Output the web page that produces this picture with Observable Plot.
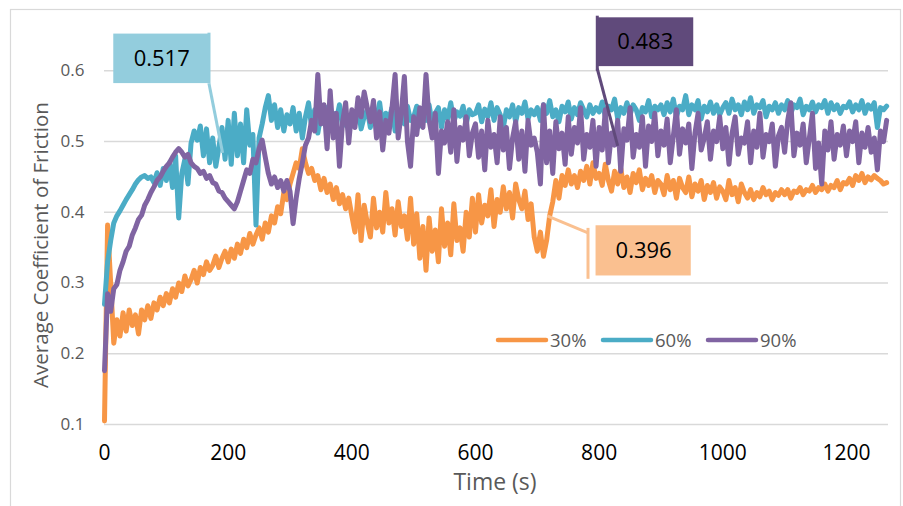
<!DOCTYPE html>
<html>
<head>
<meta charset="utf-8">
<script src="https://cdn.jsdelivr.net/npm/d3@7"></script>
<script src="https://cdn.jsdelivr.net/npm/@observablehq/plot@0.6"></script>
<style>
  html, body { margin: 0; padding: 0; background: #fff; }
  #chart { position: relative; width: 903px; height: 506px; }
</style>
</head>
<body>
<div id="chart"></div>
<script>
// sampling step of the series (seconds)
const dt = 5;

const seriesNames = ["30%", "60%", "90%"];
const seriesColors = ["#f79646", "#4bacc6", "#8064a2"];
const xTicks = [0, 200, 400, 600, 800, 1000, 1200];
const yTicks = [0.1, 0.2, 0.3, 0.4, 0.5, 0.6];

// 30% series, one value every 5 s
const series30 = [
  .105,.382,.300,.215,.248,.225,.258,.232,.262,.240,.255,.228,.262,.248,.268,.250,.272,.262,.280,.268,
  .285,.272,.292,.280,.300,.288,.310,.296,.305,.318,.300,.322,.312,.330,.318,.325,.338,.322,.335,.345,
  .330,.348,.335,.355,.342,.362,.350,.370,.355,.368,.378,.362,.385,.372,.395,.385,.408,.398,.428,.418,
  .440,.455,.470,.462,.490,.470,.455,.462,.445,.452,.432,.448,.428,.440,.418,.435,.412,.425,.405,.420,
  .395,.372,.425,.360,.410,.385,.365,.420,.378,.400,.372,.428,.385,.405,.368,.415,.380,.395,.362,.420,
  .355,.398,.335,.380,.318,.392,.345,.375,.330,.405,.352,.385,.340,.412,.360,.378,.345,.400,.365,.420,
  .372,.425,.385,.410,.395,.432,.380,.418,.400,.436,.405,.428,.392,.440,.418,.405,.430,.390,.412,.365,
  .345,.372,.338,.360,.395,.415,.445,.420,.452,.438,.460,.440,.452,.435,.458,.445,.465,.440,.470,.448,
  .455,.438,.468,.445,.430,.458,.440,.462,.435,.450,.428,.455,.442,.460,.432,.448,.438,.452,.428,.445,
  .440,.425,.452,.432,.445,.420,.448,.435,.428,.450,.422,.440,.430,.445,.418,.438,.428,.442,.420,.436,
  .430,.418,.445,.425,.435,.415,.440,.428,.420,.432,.418,.428,.422,.435,.425,.430,.418,.428,.424,.432,
  .425,.432,.420,.430,.428,.435,.425,.432,.430,.438,.428,.435,.432,.440,.430,.438,.435,.445,.432,.442,
  .440,.448,.438,.452,.445,.455,.442,.450,.446,.452,.448,.445,.440,.442
];

// 60% series
const series60 = [
  .270,.330,.360,.385,.395,.402,.410,.418,.425,.432,.440,.446,.450,.452,.448,.450,.442,.456,.438,.462,
  .445,.470,.435,.480,.392,.455,.475,.440,.498,.515,.502,.522,.480,.518,.470,.505,.465,.492,.520,.475,
  .530,.468,.540,.480,.525,.470,.545,.495,.510,.382,.505,.525,.548,.565,.530,.552,.520,.545,.515,.538,
  .525,.548,.515,.540,.505,.535,.555,.520,.545,.512,.538,.525,.548,.518,.540,.530,.552,.522,.538,.515,
  .540,.525,.550,.518,.535,.545,.520,.548,.530,.555,.522,.540,.532,.548,.515,.538,.545,.525,.550,.530,
  .535,.550,.522,.545,.530,.552,.525,.540,.548,.520,.545,.532,.555,.528,.542,.536,.550,.525,.545,.538,
  .540,.552,.528,.546,.535,.555,.530,.548,.538,.520,.545,.535,.552,.528,.548,.540,.556,.532,.545,.538,
  .548,.530,.552,.540,.558,.535,.545,.528,.550,.542,.556,.532,.548,.538,.555,.545,.535,.552,.540,.548,
  .542,.556,.535,.550,.545,.560,.532,.548,.540,.555,.538,.552,.545,.530,.548,.542,.558,.535,.550,.545,
  .552,.538,.555,.542,.560,.535,.550,.545,.565,.538,.552,.545,.558,.532,.550,.542,.556,.540,.552,.538,
  .548,.555,.540,.560,.545,.552,.538,.556,.545,.562,.540,.552,.548,.558,.535,.550,.545,.555,.540,.552,
  .545,.558,.540,.552,.548,.560,.538,.550,.545,.556,.542,.552,.548,.558,.540,.555,.545,.552,.540,.550,
  .548,.556,.542,.552,.545,.558,.540,.552,.546,.555,.520,.548,.545,.550
];

// 90% series
const series90 = [
  .176,.285,.260,.292,.298,.318,.330,.345,.352,.368,.378,.390,.396,.410,.418,.428,.436,.445,.450,.458,
  .465,.470,.478,.485,.490,.485,.478,.482,.470,.465,.462,.455,.458,.448,.452,.442,.440,.430,.428,.420,
  .415,.410,.405,.415,.430,.445,.460,.455,.475,.470,.490,.502,.478,.455,.440,.450,.435,.445,.430,.445,
  .430,.384,.420,.448,.470,.495,.505,.530,.515,.595,.525,.552,.490,.572,.505,.540,.465,.528,.555,.498,
  .545,.520,.562,.535,.570,.548,.528,.558,.505,.542,.488,.530,.512,.548,.595,.505,.540,.592,.500,.465,
  .535,.510,.548,.520,.595,.530,.505,.540,.455,.515,.498,.528,.485,.545,.472,.520,.502,.535,.480,.512,
  .525,.478,.515,.460,.530,.492,.510,.470,.535,.488,.520,.462,.505,.528,.475,.515,.458,.530,.495,.505,
  .485,.440,.552,.470,.515,.455,.528,.490,.512,.468,.535,.482,.520,.498,.548,.475,.510,.492,.530,.465,
  .520,.488,.545,.470,.512,.495,.530,.458,.518,.502,.548,.478,.510,.492,.535,.465,.522,.500,.540,.480,
  .515,.495,.532,.470,.508,.545,.482,.518,.498,.525,.462,.512,.540,.488,.505,.528,.475,.515,.500,.535,
  .490,.520,.468,.512,.535,.482,.505,.498,.528,.470,.515,.492,.540,.478,.510,.500,.525,.465,.508,.520,
  .485,.530,.555,.480,.512,.495,.525,.470,.505,.540,.462,.498,.440,.515,.488,.528,.475,.510,.495,.522,
  .480,.515,.500,.528,.470,.512,.492,.520,.485,.505,.460,.515,.500,.530
];

// callout annotations (labels, colours, box in data units, leader in data units)
const calloutLabels = ["0.517", "0.483", "0.396"];
const calloutFills = ["#93cddd", "#604a7b", "#fac090"];
const calloutBoxes = [
  {x1: 15, x2: 170, y1: 0.582, y2: 0.652},
  {x1: 796, x2: 953, y1: 0.606, y2: 0.675},
  {x1: 795, x2: 949, y1: 0.310, y2: 0.381}
];
const calloutLeaders = [
  [{x1: 169, y1: 0.654, x2: 169, y2: 0.582}, {x1: 169, y1: 0.582, x2: 191, y2: 0.484}],
  [{x1: 797, y1: 0.678, x2: 797, y2: 0.600}, {x1: 797, y1: 0.603, x2: 830, y2: 0.494}],
  [{x1: 782, y1: 0.378, x2: 782, y2: 0.306}, {x1: 782, y1: 0.371, x2: 716, y2: 0.395}]
];

const rows = [];
[series30, series60, series90].forEach((arr, k) =>
  arr.forEach((v, i) => rows.push({t: i * dt, v, s: seriesNames[k]}))
);

const boxes = calloutBoxes.map((b, i) => ({...b, fill: calloutFills[i], label: calloutLabels[i]}));
const leaders = calloutLeaders.flatMap((segs, i) => segs.map(s => ({...s, stroke: calloutFills[i]})));

const FONT = "'Open Sans', sans-serif";

const chart = Plot.plot({
  width: 903,
  height: 506,
  marginLeft: 104,
  marginRight: 15,
  marginTop: 35,
  marginBottom: 82,
  style: {fontFamily: FONT, background: "transparent", overflow: "visible"},
  x: {domain: [0, 1268]},
  y: {domain: [0.1, 0.65]},
  color: {domain: seriesNames, range: seriesColors},
  marks: [
    Plot.ruleY(yTicks, {x1: 0, x2: 1268, stroke: "#d9d9d9", strokeWidth: 1.5}),
    Plot.axisY({ticks: yTicks, tickSize: 0, tickPadding: 20, tickFormat: d3.format(".1f"),
      fontSize: 17, color: "#595959", label: null}),
    Plot.axisX({ticks: xTicks, tickSize: 0, tickPadding: 21, tickFormat: d => String(d),
      fontSize: 21, color: "#000", label: null}),
    Plot.line(rows, {x: "t", y: "v", z: "s", stroke: "s", strokeWidth: 5,
      strokeLinejoin: "round", strokeLinecap: "round"}),
    Plot.link(leaders, {x1: "x1", y1: "y1", x2: "x2", y2: "y2", stroke: d => d.stroke, strokeWidth: 3}),
    Plot.rect(boxes, {x1: "x1", x2: "x2", y1: "y1", y2: "y2", fill: d => d.fill}),
    Plot.text(boxes, {x: d => (d.x1 + d.x2) / 2, y: d => (d.y1 + d.y2) / 2, text: "label",
      fontSize: 22, fill: "#000", textAnchor: "middle"})
  ]
});

document.getElementById("chart").appendChild(chart);

const svg = d3.select(chart);
// outer frame
svg.insert("rect", ":first-child")
  .attr("x", 10.5).attr("y", 9.5).attr("width", 890).attr("height", 505)
  .attr("fill", "none").attr("stroke", "#d9d9d9").attr("stroke-width", 1.2);

// axis titles
svg.append("text")
  .attr("transform", "translate(40,245) rotate(-90)")
  .attr("text-anchor", "middle").attr("dominant-baseline", "central")
  .attr("font-family", FONT).attr("font-size", 20.5).attr("fill", "#595959")
  .text("Average Coefficient of Friction");
svg.append("text")
  .attr("x", 495).attr("y", 490)
  .attr("text-anchor", "middle")
  .attr("font-family", FONT).attr("font-size", 23).attr("fill", "#595959")
  .text("Time (s)");

// legend
const legendX = [498, 603, 708];
const lg = svg.append("g").attr("font-family", FONT).attr("font-size", 18.5)
  .attr("fill", "#595959").attr("text-anchor", "start");
seriesNames.forEach((name, i) => {
  lg.append("line").attr("x1", legendX[i]).attr("x2", legendX[i] + 48).attr("y1", 340).attr("y2", 340)
    .attr("stroke", seriesColors[i]).attr("stroke-width", 4.5).attr("stroke-linecap", "round");
  lg.append("text").attr("x", legendX[i] + 52).attr("y", 346.5).attr("text-anchor", "start").text(name);
});
</script>
</body>
</html>
